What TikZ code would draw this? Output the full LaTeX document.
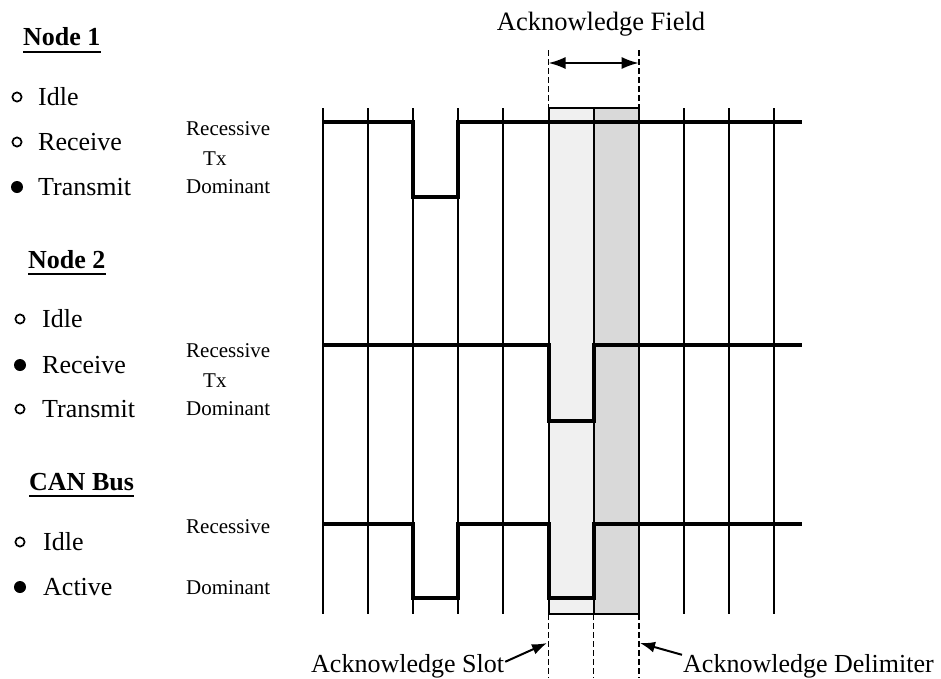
\documentclass[tikz,border=0pt]{standalone}
\usepackage{fontspec}
\setmainfont{Liberation Serif}
\usetikzlibrary{arrows.meta}
\definecolor{slotfill}{gray}{0.94}
\definecolor{delimfill}{gray}{0.85}
\begin{document}
\begin{tikzpicture}[x=1pt,y=-1pt,
  big/.style={font=\fontsize{26}{30}\selectfont, inner sep=0pt, anchor=base west},
  small/.style={font=\fontsize{21}{24}\selectfont, inner sep=0pt, anchor=base west},
  heading/.style={font=\fontsize{26}{30}\selectfont\bfseries, inner sep=0pt, anchor=base west},
  note/.style={font=\fontsize{26}{30}\selectfont, inner sep=0pt, anchor=base west},
  uline/.style={line width=2.2pt},
  onbullet/.style={fill=black},
  offbullet/.style={draw=black, line width=1.7pt, fill=white},
  grid/.style={line width=2pt},
  signal/.style={line width=4pt, line join=miter, line cap=butt},
  guide/.style={line width=1.7pt, dash pattern=on 6pt off 3pt},
  span/.style={line width=2pt, {Latex[length=17pt,width=12pt]}-{Latex[length=17pt,width=12pt]}},
  ptr/.style={line width=2pt, -{Latex[length=15pt,width=11pt]}}
]
\useasboundingbox (0,0) rectangle (941,678);

% ---------- left legend ----------
\node[heading] (t1) at (23,45) {Node 1};
\draw[uline] ([yshift=-7pt]t1.base west) -- ([yshift=-7pt]t1.base east);
\filldraw[offbullet] (17,97) circle (4.6pt);
\node[big] (n1a) at (38,105) {Idle};
\filldraw[offbullet] (17,142) circle (4.6pt);
\node[big] (n1b) at (38,150) {Receive};
\fill[onbullet] (17,187) circle (6pt);
\node[big] (n1c) at (38,195) {Transmit};

\node[heading] (t2) at (28,268) {Node 2};
\draw[uline] ([yshift=-6pt]t2.base west) -- ([yshift=-6pt]t2.base east);
\filldraw[offbullet] (20,319) circle (4.6pt);
\node[big] (n2a) at (42,327) {Idle};
\fill[onbullet] (20,365) circle (6pt);
\node[big] (n2b) at (42,373) {Receive};
\filldraw[offbullet] (20,409) circle (4.6pt);
\node[big] (n2c) at (42,417) {Transmit};

\node[heading] (t3) at (29,490) {CAN Bus};
\draw[uline] ([yshift=-6pt]t3.base west) -- ([yshift=-6pt]t3.base east);
\filldraw[offbullet] (20,542) circle (4.6pt);
\node[big] (n3a) at (43,550) {Idle};
\fill[onbullet] (20,587) circle (6pt);
\node[big] (n3b) at (43,595) {Active};

% ---------- level labels ----------
\node[small] (r1) at (186,135) {Recessive};
\node[small] (x1) at (203,165) {Tx};
\node[small] (d1) at (186,193) {Dominant};
\node[small] (r2) at (186,357) {Recessive};
\node[small] (x2) at (203,387) {Tx};
\node[small] (d2) at (186,415) {Dominant};
\node[small] (r3) at (186,533) {Recessive};
\node[small] (d3) at (186,594) {Dominant};

% ---------- acknowledge slot / delimiter shading ----------
\filldraw[fill=slotfill, draw=black, line width=2pt] (548.5,108) rectangle (593.6,614);
\filldraw[fill=delimfill, draw=black, line width=2pt] (593.6,108) rectangle (638.7,614);

% ---------- bit time grid ----------
\foreach \gx in {323,368.1,413.2,458.3,503.4,548.5,593.6,638.7,683.8,728.9,774}
  \draw[grid] (\gx,108) -- (\gx,614);

% ---------- waveforms ----------
\draw[signal] (322,122) -- (413.2,122) -- (413.2,197) -- (458.3,197) -- (458.3,122) -- (802,122);
\draw[signal] (322,345) -- (548.5,345) -- (548.5,421) -- (593.6,421) -- (593.6,345) -- (802,345);
\draw[signal] (322,524) -- (413.2,524) -- (413.2,598) -- (458.3,598) -- (458.3,524)
  -- (548.5,524) -- (548.5,598) -- (593.6,598) -- (593.6,524) -- (802,524);

% ---------- acknowledge field ----------
\draw[guide] (548.5,50) -- (548.5,108);
\draw[guide] (638.7,50) -- (638.7,108);
\draw[guide] (548.5,614) -- (548.5,678);
\draw[guide] (593.6,614) -- (593.6,678);
\draw[guide] (638.7,614) -- (638.7,678);

\coordinate (fieldL) at (548.5,63);
\coordinate (fieldR) at (638.7,63);
\draw[span] (fieldL) -- (fieldR);
\node[font=\fontsize{26.5}{30}\selectfont, inner sep=0pt, anchor=base] (field) at (601,30) {Acknowledge Field};

\node[note] (slot) at (311,672) {Acknowledge Slot};
\coordinate (slotpt) at (547,643);
\draw[ptr] ([yshift=4pt,xshift=1pt]slot.east) -- (slotpt);

\node[note] (delim) at (683,672) {Acknowledge Delimiter};
\coordinate (delimpt) at (640,643);
\draw[ptr] ([yshift=11pt,xshift=-1pt]delim.west) -- (delimpt);
\end{tikzpicture}
\end{document}
